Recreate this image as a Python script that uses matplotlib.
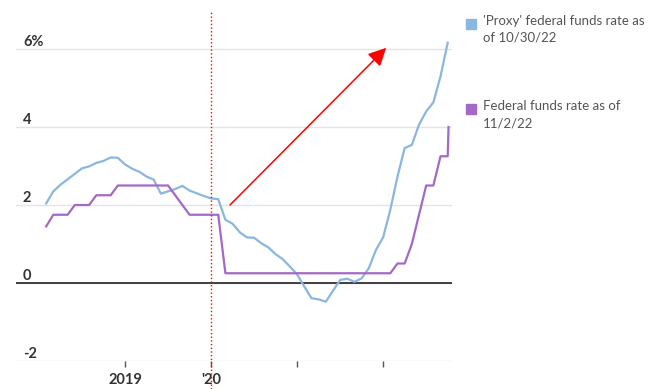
import matplotlib.pyplot as plt
from matplotlib.lines import Line2D
import numpy as np

plt.rcParams['font.family'] = ['Lato', 'DejaVu Sans']

# monthly points, Feb 2018 .. Oct 2022 (decimal years)
months = np.arange(1, 58)
dates = 2018 + months / 12

proxy_rate = [2.04, 2.35, 2.52, 2.66, 2.80, 2.94, 2.99, 3.08, 3.13, 3.22, 3.21,
              3.04, 2.93, 2.85, 2.73, 2.65, 2.29, 2.35, 2.41, 2.49, 2.37, 2.30, 2.23,
              2.17, 2.15, 1.62, 1.52, 1.30, 1.17, 1.16, 1.02, 0.91, 0.74, 0.61, 0.42,
              0.22, -0.09, -0.39, -0.42, -0.48, -0.20, 0.08, 0.11, 0.03, 0.12, 0.38, 0.85,
              1.17, 1.88, 2.73, 3.46, 3.54, 4.06, 4.40, 4.63, 5.30, 6.16]

fed_dates = list(dates) + [2022.76]
fed_rate = [1.45, 1.75, 1.75, 1.75, 2.0, 2.0, 2.0, 2.25, 2.25, 2.25, 2.5,
            2.5, 2.5, 2.5, 2.5, 2.5, 2.5, 2.5, 2.25, 2.0, 1.75, 1.75, 1.75,
            1.75, 1.75, 0.25, 0.25, 0.25, 0.25, 0.25, 0.25, 0.25, 0.25, 0.25, 0.25,
            0.25, 0.25, 0.25, 0.25, 0.25, 0.25, 0.25, 0.25, 0.25, 0.25, 0.25, 0.25,
            0.25, 0.25, 0.5, 0.5, 1.0, 1.75, 2.5, 2.5, 3.25, 3.25, 4.0]

y_ticks = [-2, 0, 2, 4, 6]
y_labels = ['-2', '0', '2', '4', '6%']
x_ticks = [2019, 2020, 2021, 2022]
x_labels = ['2019', "'20", '', '']

legend_labels = ["'Proxy' federal funds rate as\nof 10/30/22",
                 "Federal funds rate as of\n11/2/22"]

blue = '#8ab6e2'
purple = '#a468c6'

fig = plt.figure(figsize=(6.49, 3.89), dpi=100)
ax = fig.add_axes([16 / 649, 28 / 389, 436 / 649, 351 / 389])

ax.plot(dates, proxy_rate, color=blue, lw=1.6, zorder=3)
ax.plot(fed_dates, fed_rate, color=purple, lw=1.6, zorder=4)

ax.set_xlim(2017.733, 2022.80)
ax.set_ylim(-2, 7)

for s in ax.spines.values():
    s.set_visible(False)

ax.set_yticks(y_ticks)
ax.set_yticklabels(y_labels, fontweight='bold', color='#333333', fontsize=10.5)
ax.tick_params(axis='y', length=0, pad=-5)
for lab in ax.get_yticklabels():
    lab.set_ha('left')
    lab.set_va('bottom')
ax.yaxis.grid(True, color='#e4e4e4', lw=1)
ax.axhline(0, color='#222222', lw=1.2, zorder=2)

ax.set_xticks(x_ticks)
ax.set_xticklabels(x_labels, fontweight='bold', color='#333333', fontsize=10.5)
ax.tick_params(axis='x', length=4, width=1, color='#555555', pad=5)

# dotted marker at start of 2020
ax.axvline(2020, ymin=-0.08, ymax=1, color='red', ls=':', lw=1, clip_on=False, zorder=5)

ax.annotate('', xy=(2022.035, 6.03), xytext=(2020.22, 2.0),
            arrowprops=dict(arrowstyle='-|>,head_length=0.9,head_width=0.45',
                            color='red', lw=1.1, shrinkA=0, shrinkB=0,
                            mutation_scale=12), zorder=6)

# legend
for i, (lbl, c) in enumerate(zip(legend_labels, [blue, purple])):
    y0 = 15 + i * 85
    fig.add_artist(Line2D([471 / 649], [1 - (y0 + 9) / 389], marker='s', ms=6.5,
                          color=c, ls=''))
    fig.text(483 / 649, 1 - y0 / 389, lbl, ha='left', va='top', fontsize=9.5,
             color='#555555', linespacing=1.5)

fig.savefig('out.png', dpi=100)
